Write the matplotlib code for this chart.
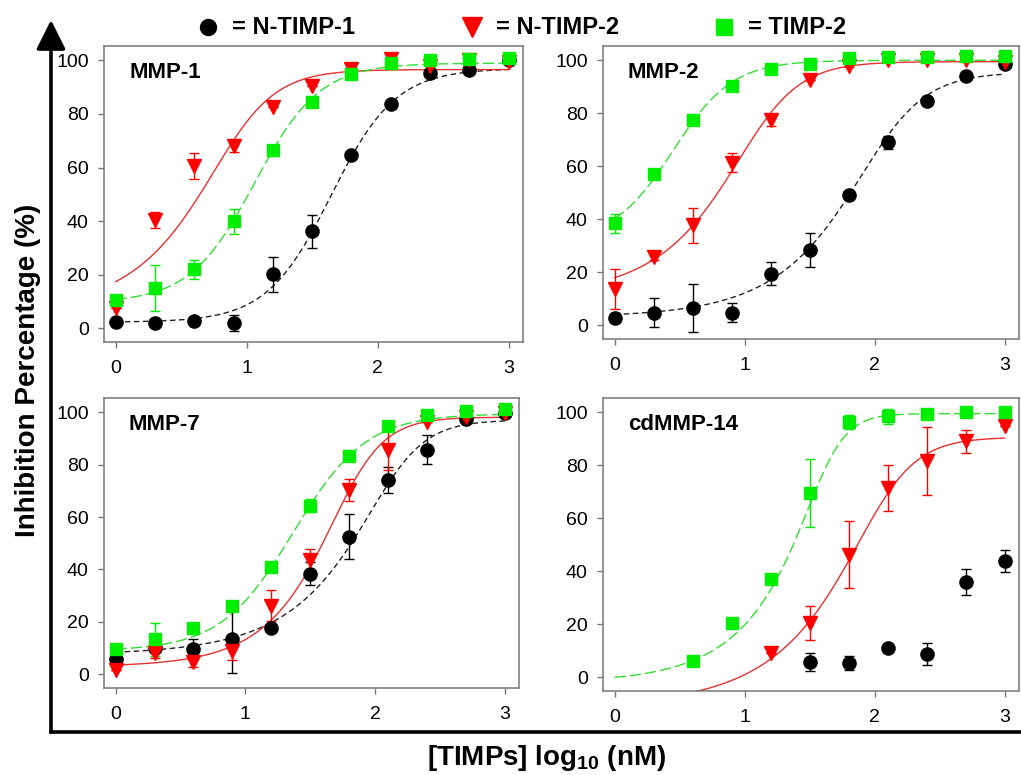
#!/usr/bin/env python3

import numpy as np
import matplotlib
matplotlib.use("Agg")
import matplotlib.pyplot as plt
from matplotlib.lines import Line2D
from matplotlib.patches import FancyArrowPatch

plt.rcParams['font.family'] = ['Liberation Sans', 'DejaVu Sans']
plt.rcParams['mathtext.fontset'] = 'custom'
plt.rcParams['mathtext.bf'] = 'Liberation Sans:bold'
plt.rcParams['mathtext.rm'] = 'Liberation Sans'

# log10 of the TIMP concentration (nM)
log_conc = [0.0, 0.3, 0.6, 0.9, 1.2, 1.5, 1.8, 2.1, 2.4, 2.7, 3.0]
nan = np.nan

panels = ["MMP-1", "MMP-2", "MMP-7", "cdMMP-14"]
series = ["N-TIMP-1", "N-TIMP-2", "TIMP-2"]

# inhibition (%) per panel: N-TIMP-1, N-TIMP-2, TIMP-2
mmp1_ntimp1 = [2.2, 2.0, 2.6, 2.0, 20.1, 36.1, 64.5, 83.9, 95.4, 96.6, 100.0]
mmp1_ntimp2 = [7.5, 40.4, 60.6, 67.9, 82.5, 90.6, 96.9, 100.4, 98.0, 100.0, 99.5]
mmp1_timp2 = [10.4, 15.1, 22.0, 39.9, 66.4, 84.5, 95.0, 99.1, 100.0, 100.6, 101.0]

mmp2_ntimp1 = [2.9, 4.8, 6.5, 4.8, 19.5, 28.4, 49.1, 69.1, 84.5, 94.0, 98.7]
mmp2_ntimp2 = [13.6, 25.8, 37.7, 61.3, 77.3, 92.5, 98.0, 100.0, 100.0, 100.0, 99.5]
mmp2_timp2 = [38.4, 57.2, 77.6, 90.2, 96.7, 98.6, 100.9, 101.3, 101.3, 101.5, 101.5]

mmp7_ntimp1 = [5.7, 10.1, 9.5, 13.3, 17.6, 38.4, 52.5, 74.1, 85.7, 97.5, 99.6]
mmp7_ntimp2 = [1.5, 8.2, 4.7, 8.9, 26.2, 43.7, 70.3, 85.4, 96.2, 98.1, 99.6]
mmp7_timp2 = [9.7, 13.3, 17.6, 25.9, 40.9, 64.3, 83.2, 94.9, 99.0, 100.6, 101.3]

mmp14_ntimp1 = [nan, nan, nan, nan, nan, 5.8, 5.5, 11.2, 8.8, 36.0, 43.9]
mmp14_ntimp2 = [nan, nan, nan, nan, 9.0, 20.3, 46.3, 71.4, 81.6, 89.1, 94.7]
mmp14_timp2 = [nan, nan, 6.3, 20.3, 36.9, 69.6, 96.2, 98.5, 99.4, 100.0, 100.0]

# error bars (SD)
mmp1_ntimp1_err = [1.0, 1.5, 0.5, 3.0, 6.5, 6.0, 0, 0, 0, 0, 0]
mmp1_ntimp2_err = [0, 3.0, 5.0, 2.0, 0, 0, 0, 1.0, 0, 0, 0]
mmp1_timp2_err = [0, 8.6, 3.5, 4.6, 2.0, 0, 0, 0, 0, 0, 0]

mmp2_ntimp1_err = [1.8, 5.6, 9.2, 3.6, 4.2, 6.3, 0.5, 2.4, 0, 0, 0]
mmp2_ntimp2_err = [7.5, 1.0, 6.6, 3.6, 2.2, 0, 0.5, 0.5, 0.5, 0.5, 0]
mmp2_timp2_err = [3.7, 0.5, 0, 0, 0, 0, 0, 0, 0, 0, 0]

mmp7_ntimp1_err = [0, 0, 4.0, 12.8, 0, 4.5, 8.6, 5.0, 5.6, 0, 0]
mmp7_ntimp2_err = [0, 2.0, 2.0, 3.5, 6.0, 4.0, 4.3, 7.6, 0, 0, 0]
mmp7_timp2_err = [1.5, 6.3, 0, 0, 0, 2.4, 0, 0, 0, 0, 0]

mmp14_ntimp1_err = [nan, nan, nan, nan, nan, 3.5, 2.6, 0.5, 4.0, 5.0, 4.0]
mmp14_ntimp2_err = [nan, nan, nan, nan, 0, 6.4, 12.7, 8.8, 12.7, 4.4, 0]
mmp14_timp2_err = [nan, nan, 0, 0, 0, 12.9, 2.6, 2.9, 0, 0, 0]

# fitted dose-response curves (5-parameter logistic):
# bottom, top, log midpoint, hill, asymmetry   (None = no fit drawn)
mmp1_fits = [(2.2, 97.0, 1.645, 1.76, 1.0), (6.0, 96.6, 0.898, 2.0, 0.5),
             (9.5, 99.0, 1.06, 1.75, 1.0)]
mmp2_fits = [(3.0, 95.5, 2.055, 1.9, 0.5), (11.0, 99.5, 1.102, 2.0, 0.5),
             (32.0, 100.0, 0.45, 1.9, 1.0)]
mmp7_fits = [(7.5, 97.0, 2.137, 2.3, 0.4), (2.9, 98.1, 1.8, 2.4, 0.5),
             (9.0, 99.4, 1.37, 1.55, 1.0)]
mmp14_fits = [None, (-11.0, 90.6, 2.055, 2.2, 0.4), (-2.0, 99.5, 1.636, 3.5, 0.3)]

values = [
    [mmp1_ntimp1, mmp1_ntimp2, mmp1_timp2],
    [mmp2_ntimp1, mmp2_ntimp2, mmp2_timp2],
    [mmp7_ntimp1, mmp7_ntimp2, mmp7_timp2],
    [mmp14_ntimp1, mmp14_ntimp2, mmp14_timp2],
]
errors = [
    [mmp1_ntimp1_err, mmp1_ntimp2_err, mmp1_timp2_err],
    [mmp2_ntimp1_err, mmp2_ntimp2_err, mmp2_timp2_err],
    [mmp7_ntimp1_err, mmp7_ntimp2_err, mmp7_timp2_err],
    [mmp14_ntimp1_err, mmp14_ntimp2_err, mmp14_timp2_err],
]
fits = [mmp1_fits, mmp2_fits, mmp7_fits, mmp14_fits]

colors = ["black", "#ff0000", "#00ee00"]
markers = ["o", "v", "s"]
msizes = [9.5, 9.5, 8]
line_styles = [dict(ls=(0, (4, 2.5)), color="#222222"),
               dict(ls="-", color="#e83030"),
               dict(ls=(0, (8, 3)), color="#33dd33")]


def logistic5(x, bottom, top, mid, hill, asym):
    return bottom + (top - bottom) / (1 + 10 ** ((mid - x) * hill)) ** asym


W, H = 1021, 775
fig = plt.figure(figsize=(W / 100, H / 100), dpi=100)

# axes boxes in pixels: left, right, top, bottom
boxes = [(104, 523, 46, 342), (603, 1019, 46, 339),
         (104, 519, 398, 688), (603, 1019, 398, 691)]

xfine = np.linspace(0, 3, 400)

for i, (l, r, t, b) in enumerate(boxes):
    ax = fig.add_axes([l / W, 1 - b / H, (r - l) / W, (b - t) / H])
    for j in range(3):
        fit = fits[i][j]
        if fit is not None:
            ax.plot(xfine, logistic5(xfine, *fit), lw=1.0, zorder=2, **line_styles[j])
    for j in range(3):
        ax.errorbar(log_conc, values[i][j], yerr=errors[i][j], fmt=markers[j],
                    color=colors[j], ms=msizes[j], mec=colors[j], ecolor=colors[j],
                    elinewidth=1.0, capsize=3.5, capthick=1.0, zorder=3)
    ax.set_xlim(-0.09, 3.11)
    ax.set_ylim(-5.2, 105.4)
    ax.set_xticks([0, 1, 2, 3])
    ax.set_yticks([0, 20, 40, 60, 80, 100])
    ax.tick_params(axis="both", direction="out", length=4, width=1,
                   color="#777777", labelsize=14)
    ax.tick_params(axis="y", pad=7)
    ax.tick_params(axis="x", pad=9)
    for sp in ax.spines.values():
        sp.set_color("#777777")
        sp.set_linewidth(1.1)
    ax.text(0.06, 0.91, panels[i], transform=ax.transAxes, fontsize=16,
            fontweight="bold", va="center", ha="left")

# big axis arrows
fig.add_artist(Line2D([51 / W, 1.0], [1 - 732 / H, 1 - 732 / H],
                      transform=fig.transFigure, color="black", lw=2.6,
                      solid_capstyle="projecting"))
fig.add_artist(FancyArrowPatch((51 / W, 1 - 732 / H), (51 / W, 1 - 20 / H),
                               transform=fig.transFigure, color="black", lw=2.6,
                               arrowstyle="-|>,head_length=0.9,head_width=0.45",
                               mutation_scale=20, shrinkA=0, shrinkB=0))

fig.text(28 / W, 1 - 370 / H, "Inhibition Percentage (%)", rotation=90,
         fontsize=20, fontweight="bold", ha="center", va="center")
fig.text(547 / W, 1 - 758 / H, r"[TIMPs] log$_{\mathbf{10}}$ (nM)",
         fontsize=20, fontweight="bold", ha="center", va="center")

# legend row at the top
leg_x = [208, 472, 724]
leg_ms = [11.5, 15, 11.5]
for j in range(3):
    fig.add_artist(Line2D([leg_x[j] / W], [1 - 27 / H], transform=fig.transFigure,
                          marker=markers[j], ms=leg_ms[j], color=colors[j], ls="none"))
    fig.text((leg_x[j] + 24) / W, 1 - 27 / H, "= " + series[j], fontsize=17,
             fontweight="bold", ha="left", va="center")

fig.savefig("out.png", dpi=100)
